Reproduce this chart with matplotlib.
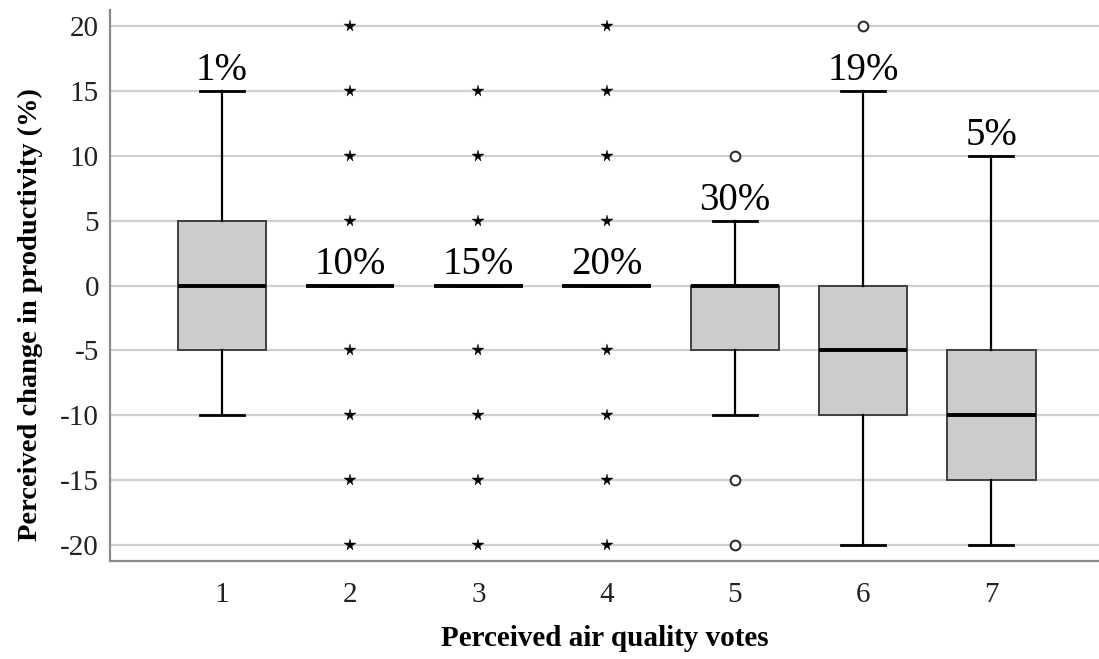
import matplotlib
matplotlib.use("Agg")
import matplotlib.pyplot as plt

plt.rcParams['font.family'] = ['Liberation Serif', 'DejaVu Serif']

# Perceived air quality vote categories
votes = [1, 2, 3, 4, 5, 6, 7]
tick_labels = ["1", "2", "3", "4", "5", "6", "7"]

# Box statistics of perceived change in productivity (%) per vote
whisker_low = [-10, 0, 0, 0, -10, -20, -20]
q1 = [-5, 0, 0, 0, -5, -10, -15]
median = [0, 0, 0, 0, 0, -5, -10]
q3 = [5, 0, 0, 0, 0, 0, -5]
whisker_high = [15, 0, 0, 0, 5, 15, 10]

# Outliers (circles) and extreme values (stars)
outliers = [[], [], [], [], [10, -15, -20], [20], []]
extremes = [[],
            [20, 15, 10, 5, -5, -10, -15, -20],
            [15, 10, 5, -5, -10, -15, -20],
            [20, 15, 10, 5, -5, -10, -15, -20],
            [], [], []]

# Share of responses per vote
shares = ["1%", "10%", "15%", "20%", "30%", "19%", "5%"]

fig = plt.figure(figsize=(10.99, 6.59), dpi=100)
ax = fig.add_axes([110 / 1099, 1 - 561 / 659, 1 - 110 / 1099, (561 - 10) / 659])

stats = []
for i in range(len(votes)):
    stats.append(dict(med=median[i], q1=q1[i], q3=q3[i],
                      whislo=whisker_low[i], whishi=whisker_high[i],
                      fliers=[], label=tick_labels[i]))

ax.bxp(stats, positions=votes, widths=0.69, patch_artist=True,
       showfliers=False,
       boxprops=dict(facecolor="#cccccc", edgecolor="#404040", linewidth=1.4),
       medianprops=dict(color="black", linewidth=2.8),
       whiskerprops=dict(color="black", linewidth=1.6),
       capprops=dict(color="black", linewidth=2.0),
       capwidths=0.345, zorder=3)

for x, vals in zip(votes, outliers):
    if vals:
        ax.plot([x] * len(vals), vals, linestyle="none", marker="o",
                markersize=7, markerfacecolor="white",
                markeredgecolor="#303030", markeredgewidth=1.5, zorder=4)
for x, vals in zip(votes, extremes):
    if vals:
        ax.plot([x] * len(vals), vals, linestyle="none", marker="*",
                markersize=8.5, color="black", markeredgewidth=0.3, zorder=4)

for x, top, s in zip(votes, whisker_high, shares):
    ax.text(x, top + 0.85, s, ha="center", va="baseline", fontsize=28,
            color="black", zorder=5)

ax.set_xlim(0.126, 7.84)
ax.set_ylim(-21.23, 21.23)
ax.set_xticks(votes)
ax.set_xticklabels(tick_labels)
ax.set_yticks([20, 15, 10, 5, 0, -5, -10, -15, -20])
ax.set_yticklabels(["20", "15", "10", "5", "0", "-5", "-10", "-15", "-20"])
ax.tick_params(axis="both", length=0, labelsize=21, colors="#222222")
ax.tick_params(axis="x", pad=15)
ax.tick_params(axis="y", pad=8)

ax.yaxis.grid(True, color="#d0d0d0", linewidth=1.6, zorder=0)
ax.set_axisbelow(True)
for side in ("top", "right"):
    ax.spines[side].set_visible(False)
for side in ("left", "bottom"):
    ax.spines[side].set_color("#8a8a8a")
    ax.spines[side].set_linewidth(1.6)

ax.set_xlabel("Perceived air quality votes", fontsize=21, fontweight="bold",
              labelpad=12)
ax.set_ylabel("Perceived change in productivity (%)", fontsize=20.5,
              fontweight="bold")
ax.yaxis.set_label_coords(-0.068, 0.448)

fig.savefig("out.png", dpi=100)
